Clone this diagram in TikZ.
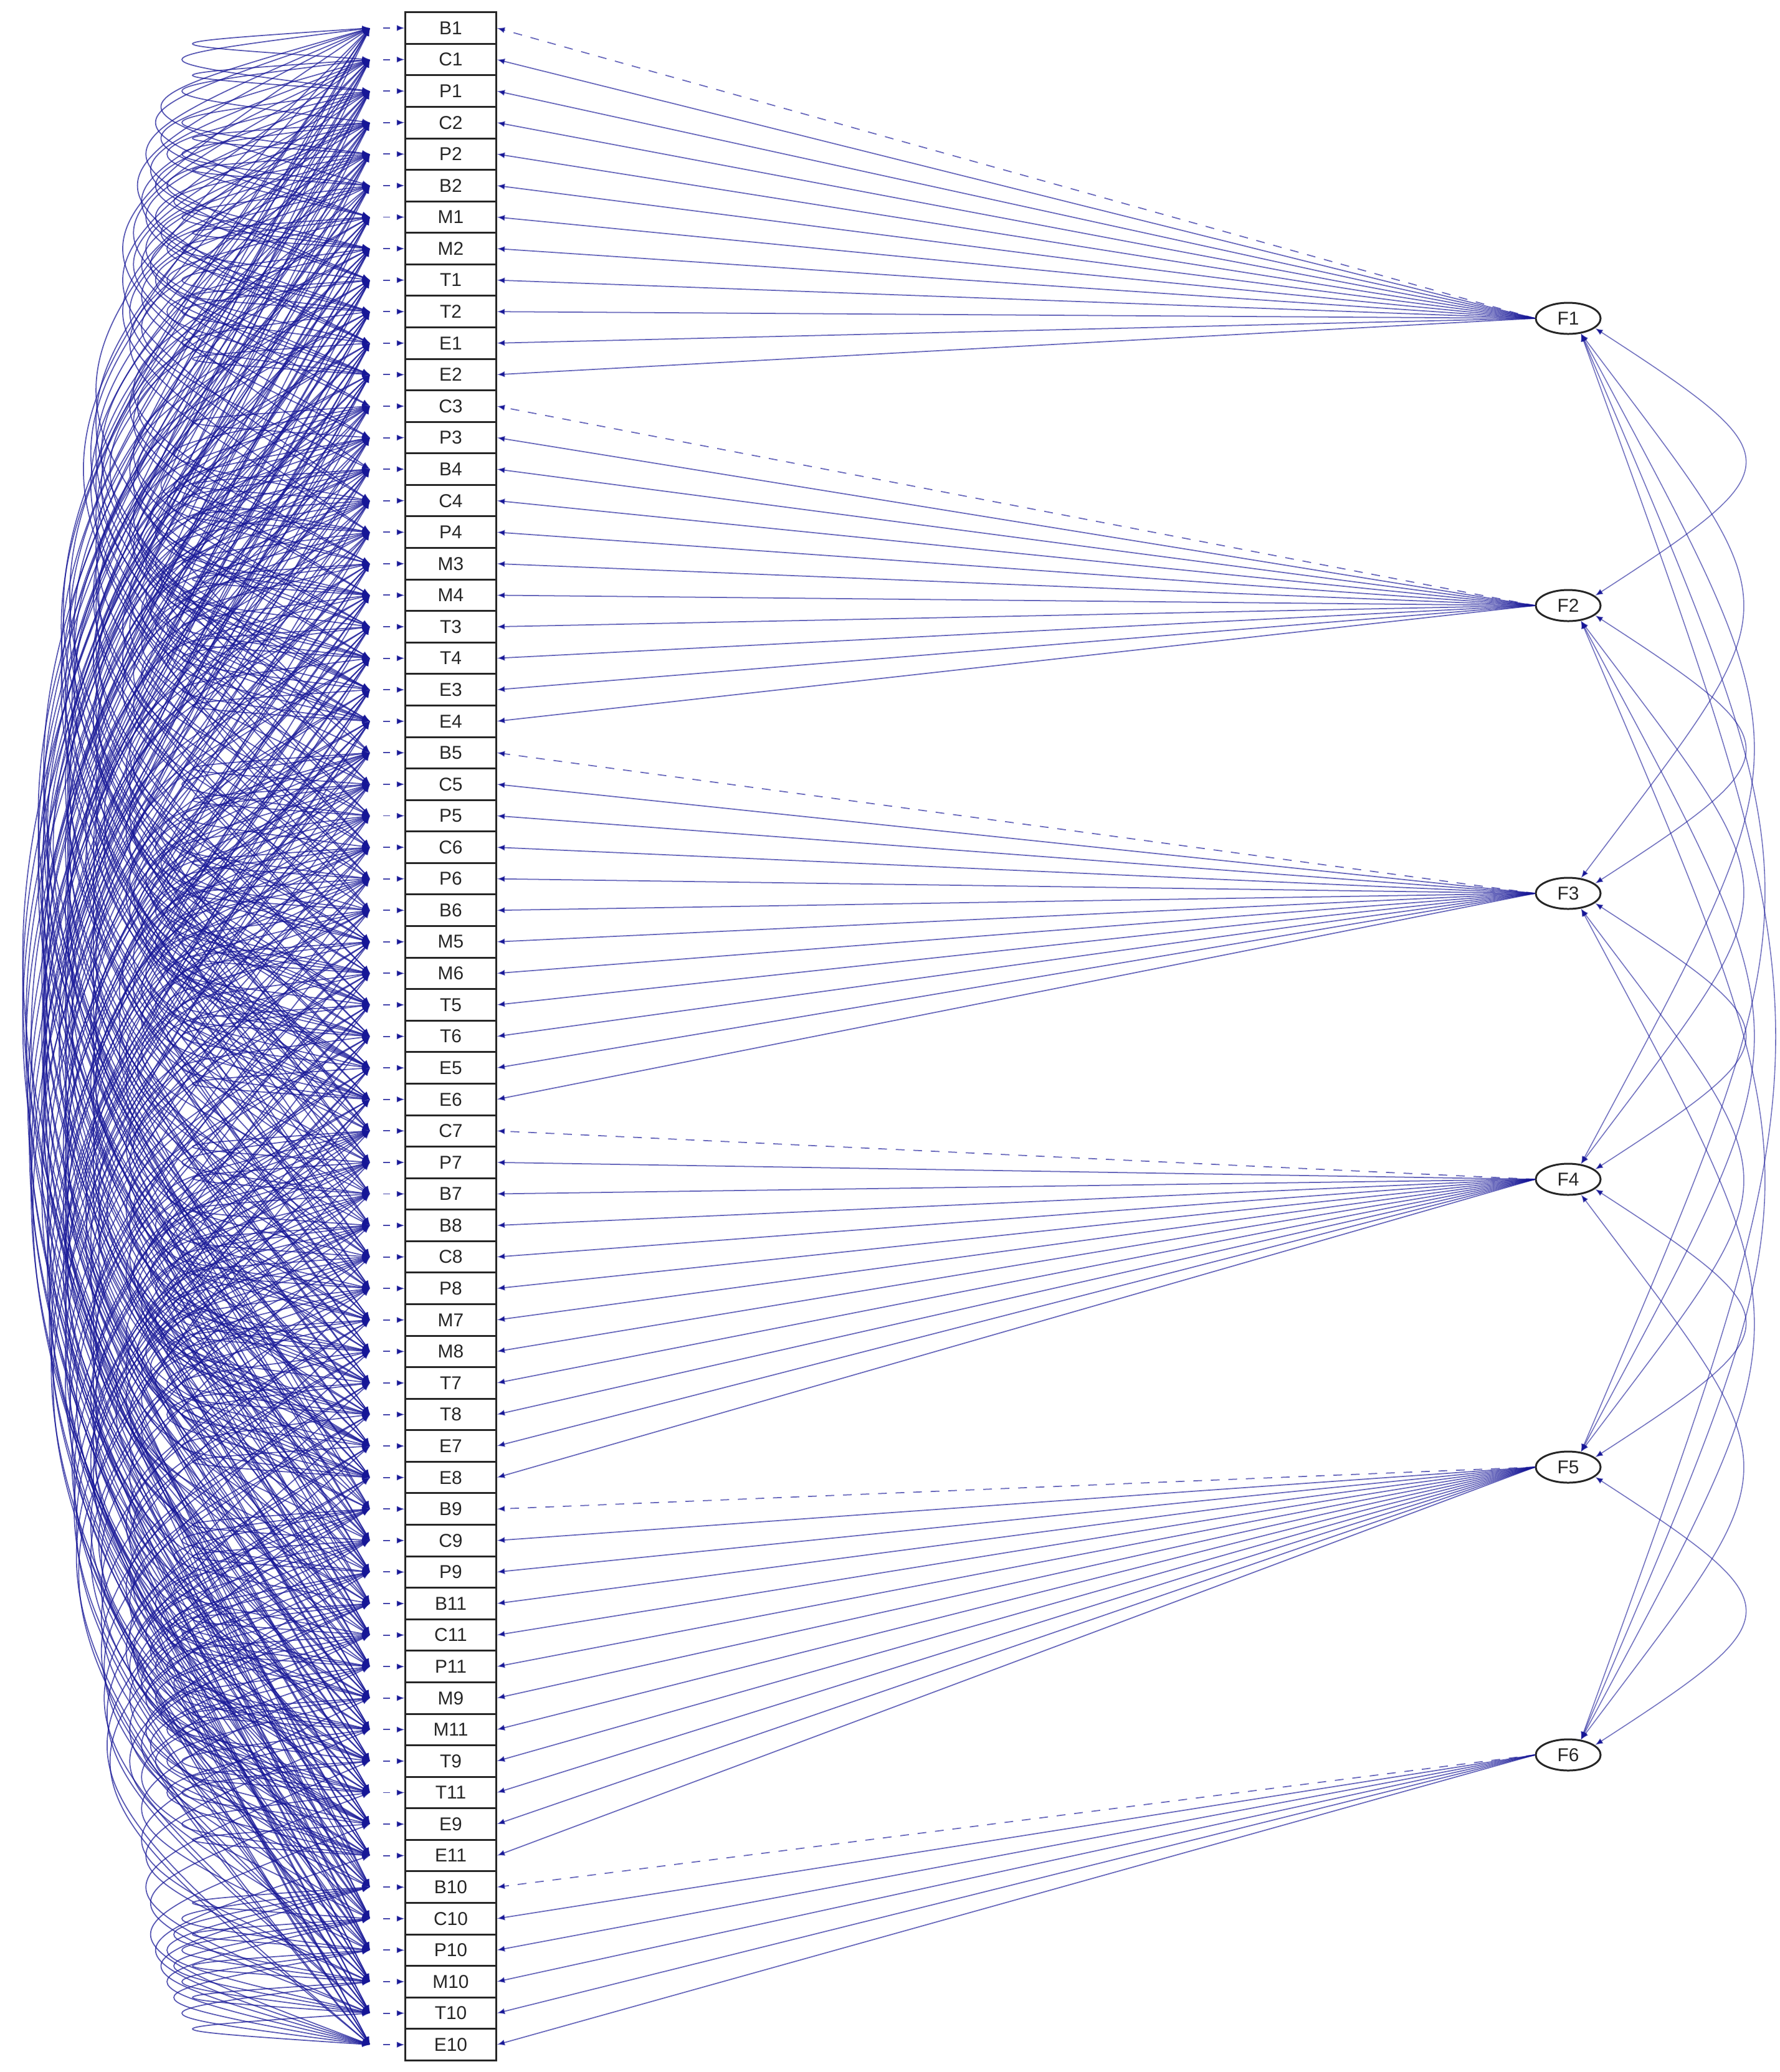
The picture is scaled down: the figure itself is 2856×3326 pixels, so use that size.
\documentclass[tikz,border=0pt]{standalone}
\usepackage{fontspec}
\setmainfont{Liberation Sans}
\usetikzlibrary{arrows.meta,shapes.geometric,calc}
\definecolor{sem}{RGB}{22,22,150}
\newcommand\covpair[2]{%
  \pgfmathsetmacro\dd{50.58*(#2-#1)}%
  \pgfmathsetmacro\hh{(241+5.77*sqrt(\dd))/0.75}%
  \pgfmathsetmacro\vv{0.5*\dd}%
  \draw[cov] (e#1) .. controls +(-\hh,\vv) and +(-\hh,-\vv) .. (e#2);}
\newcommand\facpair[2]{%
  \pgfmathtruncatemacro\df{#2-#1}%
  \pgfmathsetmacro\dd{461.2*(#2-#1)}%
  \ifnum\df=1
    \pgfmathsetmacro\vv{0.45*\dd}%
    \draw[fcov] (F#1.-20) .. controls +(320,\vv) and +(320,-\vv) .. (F#2.20);%
  \else
    \pgfmathsetmacro\hh{300+0.05*\dd}%
    \pgfmathsetmacro\vv{0.5*\dd}%
    \draw[fcov] (F#1.-50) .. controls +(\hh,\vv) and +(\hh,-\vv) .. (F#2.50);%
  \fi}
\begin{document}
\begin{tikzpicture}[x=0.01cm,y=-0.01cm,
  obs/.style={draw=black!85,line width=0.85pt,minimum width=1.45cm,minimum height=0.5058cm,
    inner sep=0pt,fill=white,text=black!85,font=\fontsize{8.5}{10}\selectfont},
  lat/.style={ellipse,draw=black!85,line width=0.85pt,minimum width=1.04cm,minimum height=0.5cm,
    inner sep=0pt,fill=white,text=black!85,font=\fontsize{8.5}{10}\selectfont},
  tip/.tip={Latex[length=3.6pt,width=2.8pt]},
  cov/.style={draw=sem,draw opacity=0.72,line width=0.5pt,tip-tip},
  fcov/.style={draw=sem,draw opacity=0.6,line width=0.45pt,tip-tip},
  load/.style={draw=sem,draw opacity=0.65,line width=0.5pt,-tip},
  fixedload/.style={load,dash pattern=on 4pt off 4pt},
  resid/.style={draw=sem,draw opacity=0.8,line width=0.55pt,dash pattern=on 3pt off 4pt,-tip,shorten <=6pt}
]
\useasboundingbox (0,0) rectangle (2856,3326);

% residual points
\foreach \i in {0,...,64} {\coordinate (e\i) at (594,{45+50.58*\i});}

% residual covariances: same letter, then same number
\foreach \grp in {{0,5,14,23,28,37,38,47,50,59},
                  {1,3,12,15,24,26,35,39,48,51,60},
                  {2,4,13,16,25,27,36,40,49,52,61},
                  {6,7,17,18,29,30,41,42,53,54,62},
                  {8,9,19,20,31,32,43,44,55,56,63},
                  {10,11,21,22,33,34,45,46,57,58,64},
                  {0,1,2,6,8,10},{3,4,5,7,9,11},{12,13,17,19,21},
                  {14,15,16,18,20,22},{23,24,25,29,31,33},{26,27,28,30,32,34},
                  {35,36,37,41,43,45},{38,39,40,42,44,46},{47,48,49,53,55,57},
                  {50,51,52,54,56,58},{59,60,61,62,63,64}} {
  \foreach \a [count=\ka] in \grp {
    \foreach \b [count=\kb] in \grp {
      \ifnum\kb>\ka \covpair{\a}{\b}\fi
    }
  }
}

% observed variables
\foreach \n [count=\i from 0] in {B1,C1,P1,C2,P2,B2,M1,M2,T1,T2,E1,E2,
  C3,P3,B4,C4,P4,M3,M4,T3,T4,E3,E4,
  B5,C5,P5,C6,P6,B6,M5,M6,T5,T6,E5,E6,
  C7,P7,B7,B8,C8,P8,M7,M8,T7,T8,E7,E8,
  B9,C9,P9,B11,C11,P11,M9,M11,T9,T11,E9,E11,
  B10,C10,P10,M10,T10,E10} {
  \node[obs] (o\i) at (723.5,{45+50.58*\i}) {\n};
  \draw[resid] (e\i) -- (o\i.west);
}

% latent factors
\node[lat] (F1) at (2517,511) {F1};
\node[lat] (F2) at (2517,972) {F2};
\node[lat] (F3) at (2517,1434) {F3};
\node[lat] (F4) at (2517,1893) {F4};
\node[lat] (F5) at (2517,2355) {F5};
\node[lat] (F6) at (2517,2817) {F6};

% loadings
\draw[fixedload] (F1.west) -- (o0.east);
\foreach \i in {1,...,11} {\draw[load] (F1.west) -- (o\i.east);}
\draw[fixedload] (F2.west) -- (o12.east);
\foreach \i in {13,...,22} {\draw[load] (F2.west) -- (o\i.east);}
\draw[fixedload] (F3.west) -- (o23.east);
\foreach \i in {24,...,34} {\draw[load] (F3.west) -- (o\i.east);}
\draw[fixedload] (F4.west) -- (o35.east);
\foreach \i in {36,...,46} {\draw[load] (F4.west) -- (o\i.east);}
\draw[fixedload] (F5.west) -- (o47.east);
\foreach \i in {48,...,58} {\draw[load] (F5.west) -- (o\i.east);}
\draw[fixedload] (F6.west) -- (o59.east);
\foreach \i in {60,...,64} {\draw[load] (F6.west) -- (o\i.east);}

% factor covariances
\foreach \a in {1,...,5} {
  \pgfmathtruncatemacro\s{\a+1}
  \foreach \b in {\s,...,6} {\facpair{\a}{\b}}
}
\end{tikzpicture}
\end{document}
